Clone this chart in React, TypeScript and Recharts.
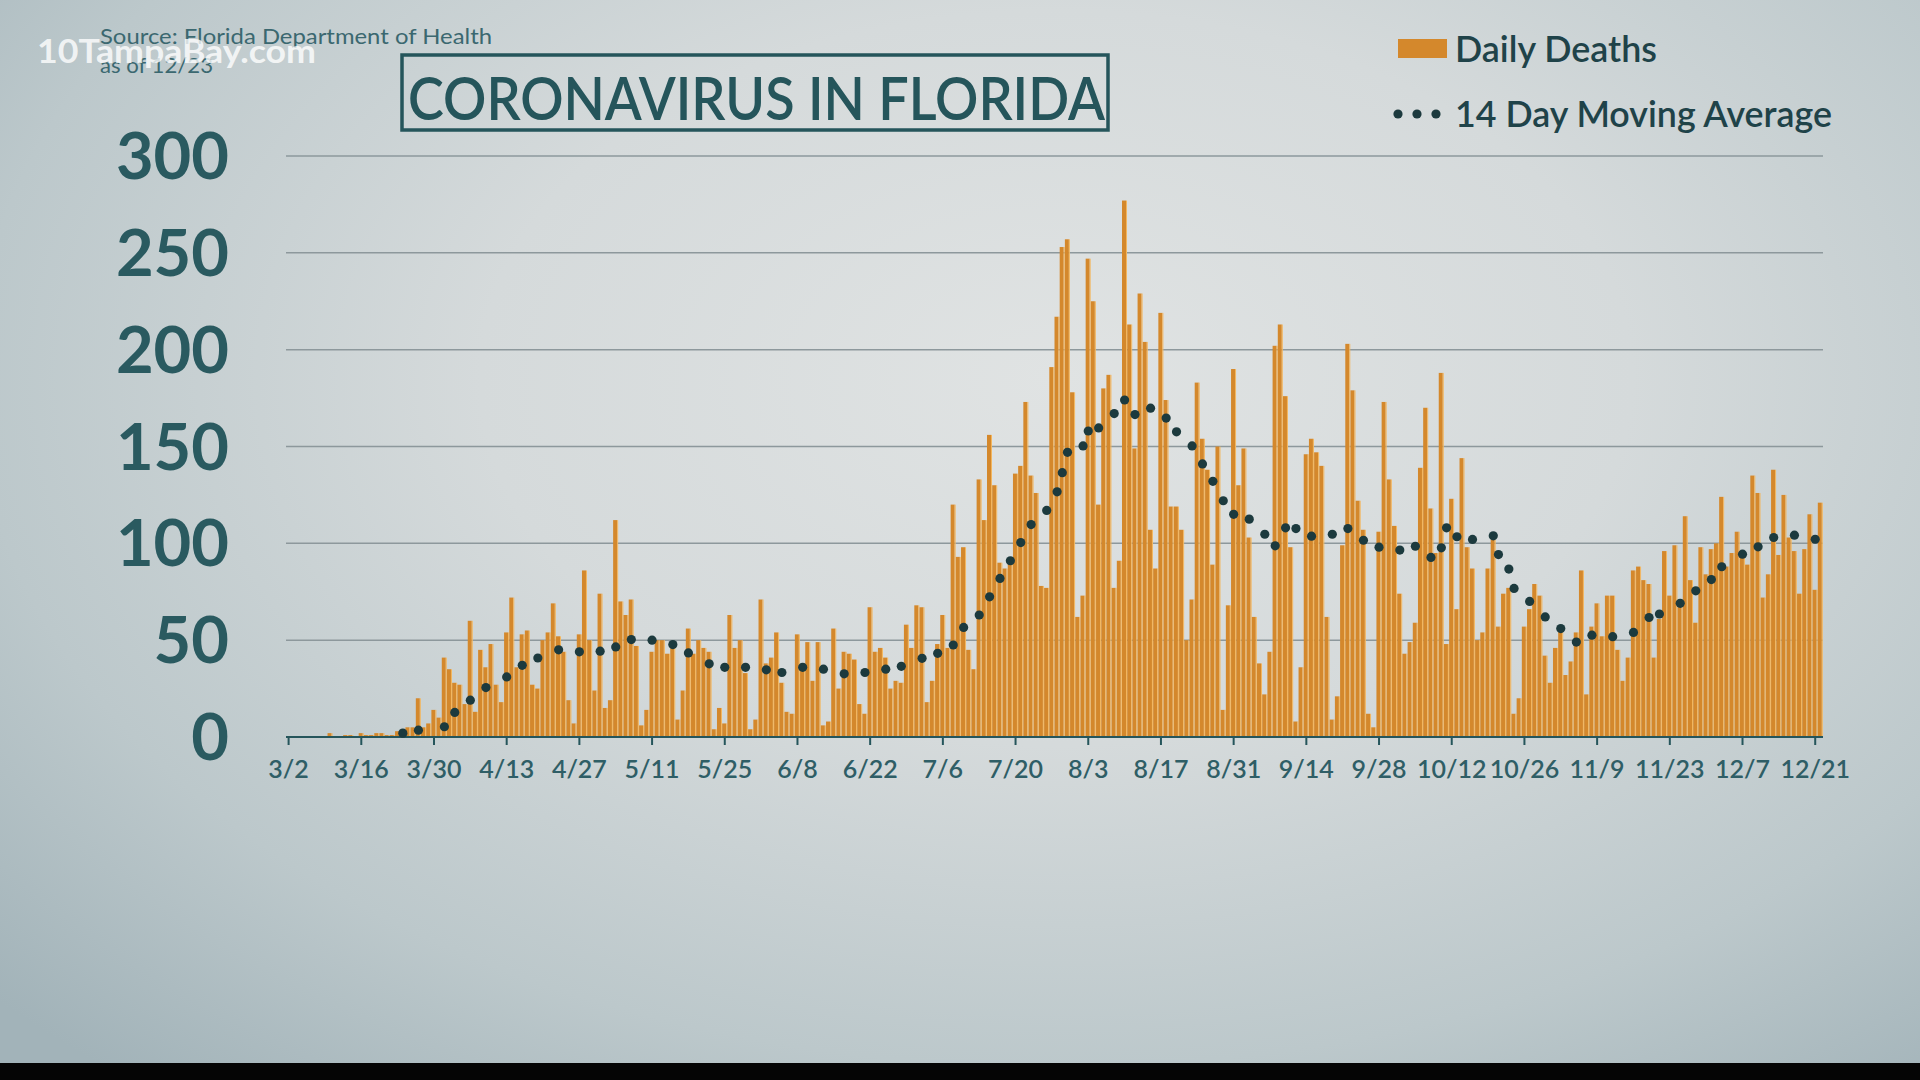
import React from 'react';
import { ComposedChart, Bar, Line, XAxis, YAxis, CartesianGrid } from 'recharts';

// x axis: one category per day starting 3/2/2020
const tickLabels = [
  '3/2', '3/16', '3/30', '4/13', '4/27', '5/11', '5/25', '6/8', '6/22', '7/6', '7/20',
  '8/3', '8/17', '8/31', '9/14', '9/28', '10/12', '10/26', '11/9', '11/23', '12/7', '12/21',
];
const yTicks = [0, 50, 100, 150, 200, 250, 300];

// daily deaths, one row per two weeks (row starts at the tick label)
const dailyDeaths = [
  0, 0, 0, 0, 0, 0, 0, 0, 2, 0, 0, 1, 1, 0, // 3/2
  2, 1, 1, 2, 2, 1, 1, 3, 4, 5, 5, 20, 5, 7, // 3/16
  14, 10, 41, 35, 28, 27, 17, 60, 13, 45, 36, 48, 27, 18, // 3/30
  54, 72, 36, 53, 55, 27, 25, 50, 54, 69, 52, 44, 19, 7, // 4/13
  53, 86, 50, 24, 74, 15, 19, 112, 70, 63, 71, 47, 6, 14, // 4/27
  44, 50, 50, 43, 47, 9, 24, 56, 43, 50, 46, 44, 4, 15, // 5/11
  7, 63, 46, 50, 33, 4, 9, 71, 38, 41, 54, 28, 13, 12, // 5/25
  53, 36, 49, 29, 49, 6, 8, 56, 25, 44, 43, 40, 17, 12, // 6/8
  67, 44, 46, 41, 25, 29, 28, 58, 46, 68, 67, 18, 29, 48, // 6/22
  63, 46, 120, 93, 98, 45, 35, 133, 112, 156, 130, 90, 87, 92, // 7/6
  136, 140, 173, 135, 126, 78, 77, 191, 217, 253, 257, 178, 62, 73, // 7/20
  247, 225, 120, 180, 187, 77, 91, 277, 213, 149, 229, 204, 107, 87, // 8/3
  219, 174, 119, 119, 107, 50, 71, 183, 154, 138, 89, 150, 14, 68, // 8/17
  190, 130, 149, 103, 62, 38, 22, 44, 202, 213, 176, 98, 8, 36, // 8/31
  146, 154, 147, 140, 62, 9, 21, 99, 203, 179, 122, 107, 12, 5, // 9/14
  106, 173, 133, 109, 74, 43, 49, 59, 139, 170, 118, 95, 188, 48, // 9/28
  123, 66, 144, 98, 87, 50, 54, 87, 102, 57, 74, 77, 12, 20, // 10/12
  57, 66, 79, 73, 42, 28, 46, 55, 32, 39, 54, 86, 22, 57, // 10/26
  69, 52, 73, 73, 45, 29, 41, 86, 88, 81, 79, 41, 61, 96, // 11/9
  73, 99, 70, 114, 81, 59, 98, 84, 97, 100, 124, 88, 95, 106, // 11/23
  94, 89, 135, 126, 72, 84, 138, 94, 125, 103, 96, 74, 97, 115, // 12/7
  76, 121, // 12/21
];

// 14 day moving average, read at the dots (day index from 3/2)
const avgDayIndex = [
  22, 25, 30, 32, 35, 38, 42, 45, 48, 52, 56, 60, 63, 66, 70, 74, 77, 81, 84, 88,
  92, 95, 99, 103, 107, 111, 115, 118, 122, 125, 128, 130, 133, 135, 137, 139, 141, 143, 146, 148,
  149, 150, 153, 154, 156, 159, 161, 163, 166, 169, 171, 174, 176, 178, 180, 182, 185, 188, 190, 192,
  194, 197, 201, 204, 207, 210, 214, 217, 220, 222, 223, 225, 228, 232, 233, 235, 236, 239, 242, 245,
  248, 251, 255, 259, 262, 264, 268, 271, 274, 276, 280, 283, 286, 290, 294,
];
const avgValues = [
  2, 3.5, 5.3, 12.7, 19, 25.5, 31, 37, 40.8, 45, 44, 44.3, 46.5, 50.3, 50, 47.7, 43.4, 37.8, 36, 36,
  34.7, 33.3, 36, 35, 32.6, 33.3, 35, 36.5, 40.6, 43.2, 47.5, 56.6, 63, 72.4, 81.9, 91, 100.4, 109.7, 117, 126.6,
  136.5, 147, 150.3, 158, 159.6, 167, 174, 166.5, 169.8, 164.7, 157.6, 150.3, 141, 132, 122, 115, 112.5, 104.7, 98.7, 108,
  107.6, 103.7, 104.7, 107.6, 101.6, 98, 96.5, 98.5, 92.7, 97.7, 108, 103.4, 102, 103.9, 94.2, 86.7, 76.7, 70, 62, 56,
  49, 52.6, 51.8, 54, 61.7, 63.5, 69, 75.5, 81.3, 87.9, 94.4, 98.2, 103, 104.2, 102.1,
];

const dayLabel = (i: number) => {
  const d = new Date(2020, 2, 2 + i);
  return `${d.getMonth() + 1}/${d.getDate()}`;
};

const avgByDay = new Map<number, number>();
avgDayIndex.forEach((d, k) => avgByDay.set(d, avgValues[k]));

const data = dailyDeaths.map((v, i) => ({
  day: dayLabel(i),
  deaths: v,
  avg: avgByDay.has(i) ? avgByDay.get(i) : null,
}));

const TEAL = '#25555b';
const ORANGE = '#d4882c';
const DOT = '#1c3a3e';
const FONT = "Lato, 'Open Sans', sans-serif";

const BarShape = (props: any) => {
  const { x, y, width, height } = props;
  if (!height || height <= 0) return null;
  return (
    <g>
      <rect x={x} y={y} width={Math.max(width - 1, 1)} height={height} fill={ORANGE} />
      <rect x={x + width - 1} y={y} width={1} height={height} fill="#f3b65e" />
    </g>
  );
};

export default function App() {
  return (
    <div
      style={{
        position: 'absolute',
        left: 0,
        top: 0,
        width: 1920,
        height: 1080,
        overflow: 'hidden',
        background:
          'radial-gradient(ellipse 75% 85% at 55% 35%, #e0e3e3 0%, #d5dadb 40%, #bcc8cb 75%, #a2b3b9 100%)',
      }}
    >
      <ComposedChart
        width={1920}
        height={1080}
        data={data}
        margin={{ top: 156, right: 97, bottom: 283, left: 0 }}
        barCategoryGap={0}
        barGap={0}
      >
        <CartesianGrid vertical={false} stroke="#8d989c" strokeWidth={1.5} />
        <XAxis
          dataKey="day"
          ticks={tickLabels}
          interval={0}
          height={60}
          axisLine={{ stroke: TEAL, strokeWidth: 2 }}
          tickLine={{ stroke: TEAL, strokeWidth: 2 }}
          tickSize={8}
          tickMargin={15}
          tick={{ fill: '#2f5e66', fontSize: 25, fontWeight: 600, fontFamily: FONT }}
        />
        <YAxis
          domain={[0, 300]}
          ticks={yTicks}
          width={286}
          axisLine={false}
          tickLine={false}
          tickSize={0}
          tickMargin={57}
          tick={{ fill: '#2a5a60', fontSize: 65, fontWeight: 700, fontFamily: FONT }}
        />
        <Bar dataKey="deaths" shape={<BarShape />} isAnimationActive={false} />
        <Line
          dataKey="avg"
          stroke="none"
          strokeWidth={0}
          dot={{ r: 4.6, fill: DOT, stroke: 'none' }}
          activeDot={false}
          isAnimationActive={false}
        />
      </ComposedChart>

      <svg
        width={1920}
        height={1080}
        style={{ position: 'absolute', left: 0, top: 0, pointerEvents: 'none' }}
      >
        <text x={100} y={44} fontSize={22} fill="#3b6870" fontFamily={FONT} textLength={392} lengthAdjust="spacingAndGlyphs">
          Source: Florida Department of Health
        </text>
        <text x={100} y={73} fontSize={22} fill="#3b6870" fontFamily={FONT} textLength={113} lengthAdjust="spacingAndGlyphs">
          as of 12/23
        </text>
        <text x={37} y={63} fontSize={33} fontWeight={700} fill="#ffffff" fillOpacity={0.8} fontFamily={FONT} textLength={279} lengthAdjust="spacingAndGlyphs">
          10TampaBay.com
        </text>

        <rect x={402} y={55} width={706} height={75} fill="none" stroke={TEAL} strokeWidth={3.5} />
        <text x={408} y={120} fontSize={60} fontWeight={600} fill={TEAL} fontFamily={FONT} textLength={697} lengthAdjust="spacingAndGlyphs">
          CORONAVIRUS IN FLORIDA
        </text>

        <rect x={1398} y={39} width={49} height={19} fill={ORANGE} />
        <text x={1455} y={62} fontSize={36} fontWeight={600} fill="#1f4349" fontFamily={FONT} textLength={202} lengthAdjust="spacingAndGlyphs">
          Daily Deaths
        </text>
        {[1398, 1417, 1436].map((cx) => (
          <circle key={cx} cx={cx} cy={114} r={4.6} fill={DOT} />
        ))}
        <text x={1455} y={127} fontSize={36} fontWeight={600} fill="#1f4349" fontFamily={FONT} textLength={377} lengthAdjust="spacingAndGlyphs">
          14 Day Moving Average
        </text>
      </svg>

      <div style={{ position: 'absolute', left: 0, top: 1063, width: 1920, height: 17, background: '#050505' }} />
    </div>
  );
}
